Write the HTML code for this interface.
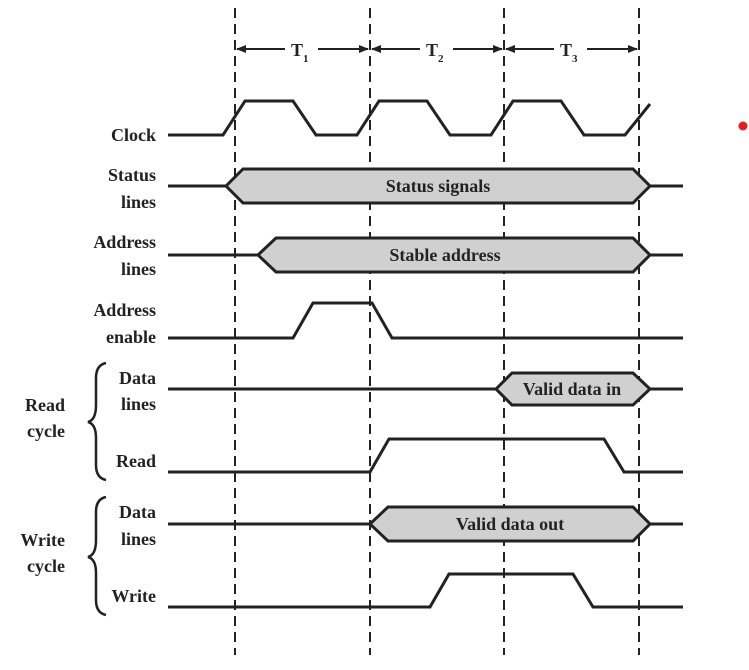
<!DOCTYPE html>
<html><head><style>
html,body{margin:0;padding:0;background:#fff;}
svg{display:block;}
text{font-family:"Liberation Serif",serif;font-weight:bold;fill:#222;}
</style></head><body>
<svg width="749" height="670" viewBox="0 0 749 670" xmlns="http://www.w3.org/2000/svg">
<defs>
<marker id="ah" markerWidth="10" markerHeight="8" refX="9" refY="4" orient="auto" markerUnits="userSpaceOnUse">
<path d="M0,0 L10,4 L0,8 z" fill="#222"/></marker>
</defs>
<g stroke="#222" stroke-width="2" stroke-dasharray="10,6">
<line x1="235" y1="8" x2="235" y2="655"/>
<line x1="370" y1="8" x2="370" y2="655"/>
<line x1="504" y1="8" x2="504" y2="655"/>
<line x1="639" y1="8" x2="639" y2="655"/>
</g>
<g stroke="#222" stroke-width="2">
<line x1="285" y1="49" x2="237" y2="49" marker-end="url(#ah)"/>
<line x1="318" y1="49" x2="368" y2="49" marker-end="url(#ah)"/>
<line x1="420" y1="49" x2="372" y2="49" marker-end="url(#ah)"/>
<line x1="453" y1="49" x2="502" y2="49" marker-end="url(#ah)"/>
<line x1="554" y1="49" x2="506" y2="49" marker-end="url(#ah)"/>
<line x1="587" y1="49" x2="637" y2="49" marker-end="url(#ah)"/>
</g>
<g font-size="18">
<text x="291" y="56" font-weight="normal">T</text><text x="303" y="62" font-size="11" font-weight="normal">1</text>
<text x="426" y="56" font-weight="normal">T</text><text x="438" y="62" font-size="11" font-weight="normal">2</text>
<text x="560" y="56" font-weight="normal">T</text><text x="572" y="62" font-size="11" font-weight="normal">3</text>
</g>
<g fill="none" stroke="#222" stroke-width="3" stroke-linejoin="miter">
<polyline points="168,135 223,135 245,101 293,101 316,135 357,135 379,101 427,101 450,135 491,135 513,101 561,101 584,135 625,135 650,104"/>
<polyline points="168,338 293,338 313,303 372,303 392,338 683,338"/>
<polyline points="168,472 370,472 389,439 604,439 624,472 683,472"/>
<polyline points="168,607 430,607 449,574 573,574 593,607 683,607"/>
<line x1="168" y1="186" x2="226" y2="186"/><line x1="650" y1="186" x2="683" y2="186"/>
<line x1="168" y1="255" x2="258" y2="255"/><line x1="650" y1="255" x2="683" y2="255"/>
<line x1="168" y1="389" x2="496" y2="389"/><line x1="650" y1="389" x2="683" y2="389"/>
<line x1="168" y1="524" x2="370" y2="524"/><line x1="650" y1="524" x2="683" y2="524"/>
</g>
<g fill="#d0d0d0" stroke="#222" stroke-width="3">
<polygon points="226,186 243,169 633,169 650,186 633,203 243,203"/>
<polygon points="258,255 276,238 633,238 650,255 633,272 276,272"/>
<polygon points="496,389 512,373 633,373 650,389 633,405 512,405"/>
<polygon points="370,524 388,507 633,507 650,524 633,541 388,541"/>
</g>
<g font-size="18" text-anchor="middle">
<text x="438" y="192">Status signals</text>
<text x="445" y="261">Stable address</text>
<text x="572" y="395">Valid data in</text>
<text x="510" y="530">Valid data out</text>
</g>
<g font-size="18" text-anchor="end">
<text x="156" y="141">Clock</text>
<text x="156" y="181">Status</text><text x="156" y="208">lines</text>
<text x="156" y="248">Address</text><text x="156" y="275">lines</text>
<text x="156" y="316">Address</text><text x="156" y="343">enable</text>
<text x="156" y="384">Data</text><text x="156" y="410">lines</text>
<text x="156" y="467">Read</text>
<text x="156" y="518">Data</text><text x="156" y="545">lines</text>
<text x="156" y="602">Write</text>
<text x="65" y="411">Read</text><text x="65" y="437">cycle</text>
<text x="65" y="546">Write</text><text x="65" y="572">cycle</text>
</g>
<g fill="none" stroke="#222" stroke-width="2.5">
<path d="M106,363 Q96,365 96,378 L96,405 Q96,420 88,422 Q96,424 96,438 L96,465 Q96,478 106,480"/>
<path d="M106,497 Q96,499 96,512 L96,540 Q96,555 88,557 Q96,559 96,573 L96,600 Q96,613 106,615"/>
</g>
<circle cx="743" cy="126" r="4.5" fill="#e02020"/>
</svg>
</body></html>
